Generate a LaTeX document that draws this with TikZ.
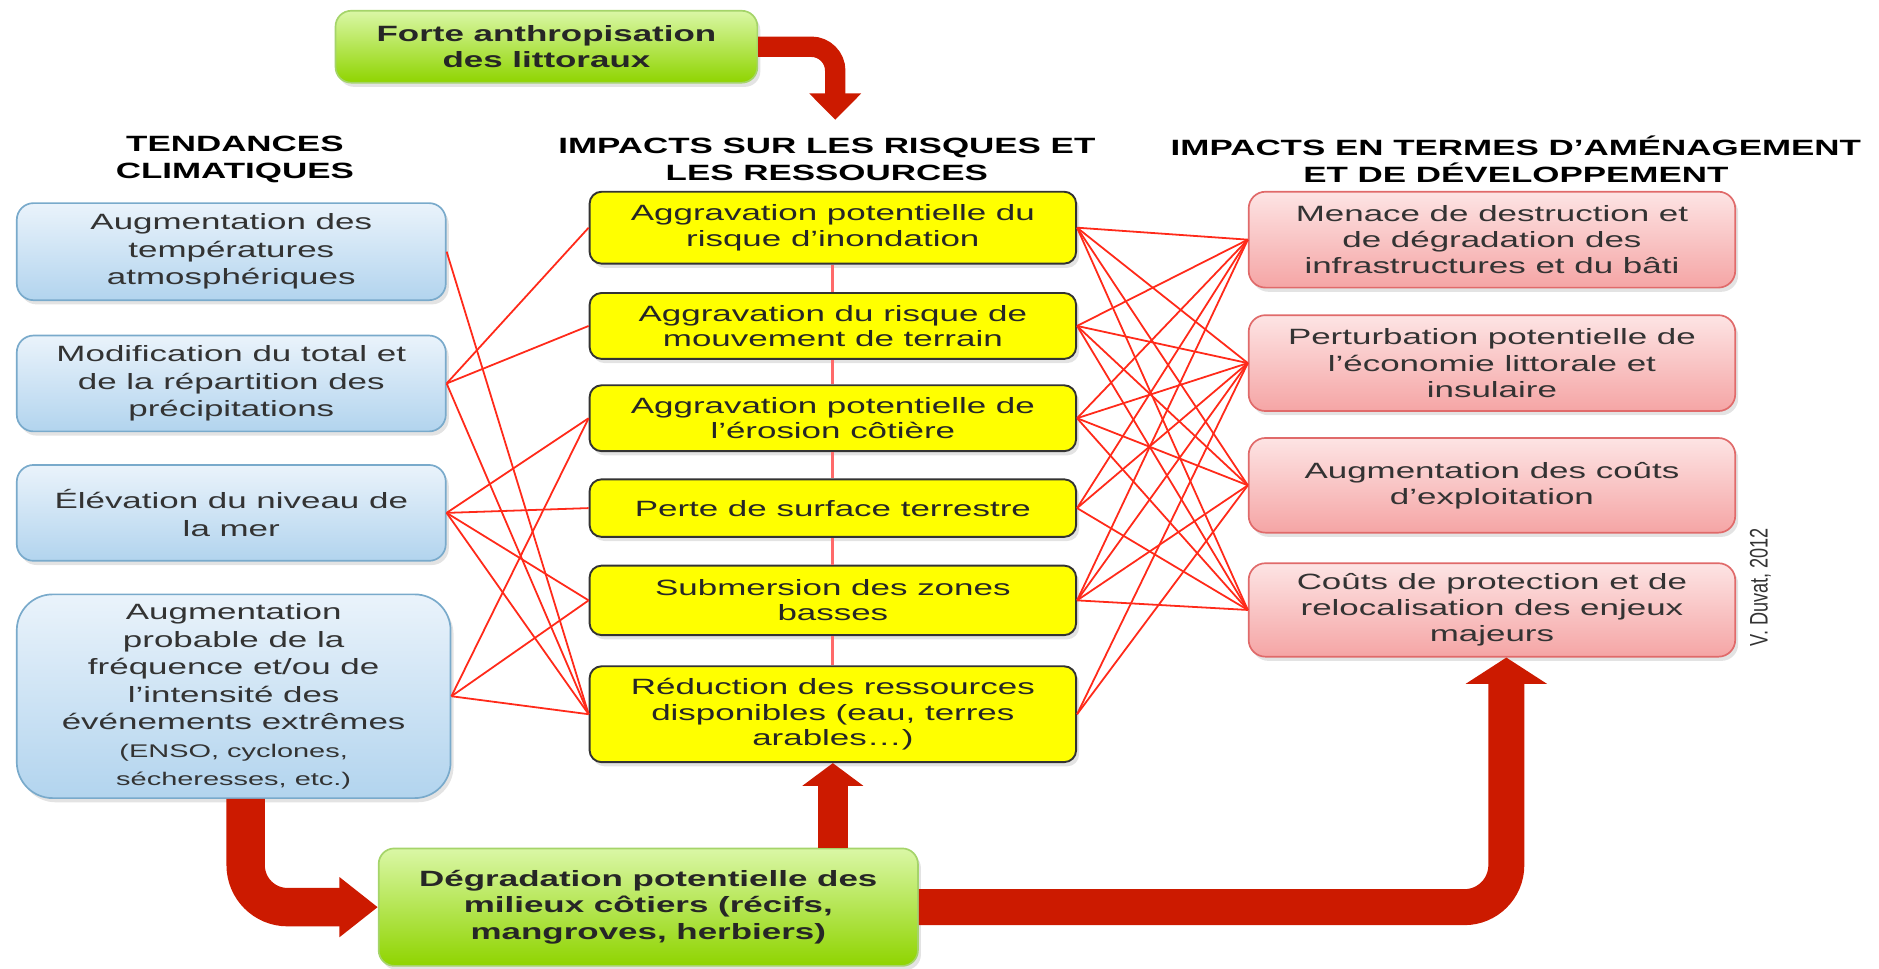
\documentclass[tikz,border=0pt]{standalone}
\usepackage{fontspec}
\setmainfont[FakeStretch=1.58]{Liberation Sans}
\newfontfamily\creditfont{Liberation Sans}
\usepackage{tikz}
\usetikzlibrary{arrows.meta,shadows}

\definecolor{bleuhaut}{HTML}{EAF3FB}
\definecolor{bleubas}{HTML}{B2D4EE}
\definecolor{bleubord}{HTML}{79AACB}
\definecolor{rosehaut}{HTML}{FDE4E4}
\definecolor{rosebas}{HTML}{F5A5A5}
\definecolor{rosebord}{HTML}{E06A6A}
\definecolor{verthaut}{HTML}{DAF7A6}
\definecolor{vertbas}{HTML}{8FD400}
\definecolor{vertbord}{HTML}{A5D46A}
\definecolor{jaune}{HTML}{FFFF00}
\definecolor{lienrouge}{HTML}{FF2A1A}
\definecolor{axerouge}{HTML}{FF6A6A}
\definecolor{flecherouge}{HTML}{CC1A00}
\definecolor{texte}{HTML}{333333}
\newcommand{\petit}{\fontsize{8.7}{11}\selectfont}

\begin{document}
\begin{tikzpicture}[x=0.2mm,y=-0.2mm,
  boite/.style={align=center,text=texte,inner sep=2pt,font=\fontsize{10.5}{12.4}\selectfont,
    drop shadow={opacity=0.22,shadow xshift=0.5mm,shadow yshift=-0.7mm}},
  climat/.style={boite,rounded corners=2.8mm,draw=bleubord,line width=0.8pt,top color=bleuhaut,bottom color=bleubas,
    minimum width=71.6mm,minimum height=16mm,font=\fontsize{10.5}{13.1}\selectfont},
  risque/.style={boite,rounded corners=2mm,draw=black!80,line width=0.9pt,fill=jaune,text=black!85,
    minimum width=81.2mm,font=\fontsize{10.5}{12}\selectfont},
  amenag/.style={boite,rounded corners=2.8mm,draw=rosebord,line width=0.8pt,top color=rosehaut,bottom color=rosebas,
    minimum width=81.2mm,minimum height=16mm},
  moteur/.style={boite,rounded corners=2.6mm,draw=vertbord,line width=0.8pt,top color=verthaut,bottom color=vertbas,
    text=black!85,font=\fontsize{10.5}{12.5}\selectfont\bfseries},
  titre/.style={align=center,font=\fontsize{10.5}{12.5}\selectfont\bfseries},
  lien/.style={lienrouge,line width=0.85pt},
  axe/.style={axerouge,line width=1.3pt},
  fleche/.style={flecherouge,line width=#1,rounded corners=7mm}]
  \useasboundingbox (0,0) rectangle (1568,808);

  % facteurs et titres
  \node[moteur,minimum width=70.4mm,minimum height=12mm] (forte) at (456,39) {Forte anthropisation\\des littoraux};
  \node[titre] (hclim) at (196,133) {TENDANCES\\CLIMATIQUES};
  \node[titre] (hrisq) at (690,133) {IMPACTS SUR LES RISQUES ET\\LES RESSOURCES};
  \node[titre] (hamen) at (1265,133) {IMPACTS EN TERMES D’AMÉNAGEMENT\\ET DE DÉVELOPPEMENT};

  \node[climat,minimum height=16.2mm] (temp) at (193,210) {Augmentation des\\températures\\atmosphériques};
  \node[climat] (prec) at (193,320) {Modification du total et\\de la répartition des\\précipitations};
  \node[climat] (mer) at (193,428) {Élévation du niveau de\\la mer};
  \node[climat,rounded corners=6mm,minimum width=72.4mm,minimum height=34mm] (extr) at (195,581)
    {Augmentation\\probable de la\\fréquence et/ou de\\l’intensité des\\événements extrêmes\\{\petit (ENSO, cyclones,}\\{\petit sécheresses, etc.)}};

  \node[risque,minimum height=12mm] (inond) at (695,190) {Aggravation potentielle du\\risque d’inondation};
  \node[risque,minimum height=11mm] (mouv) at (695,272) {Aggravation du risque de\\mouvement de terrain};
  \node[risque,minimum height=11mm] (eros) at (695,349) {Aggravation potentielle de\\l’érosion côtière};
  \node[risque,minimum height=9.6mm] (surf) at (695,424) {Perte de surface terrestre};
  \node[risque,minimum height=11.6mm] (subm) at (695,501) {Submersion des zones\\basses};
  \node[risque,minimum height=16mm] (reduc) at (695,596) {Réduction des ressources\\disponibles (eau, terres\\arables…)};

  \node[amenag] (menace) at (1245,200) {Menace de destruction et\\de dégradation des\\infrastructures et du bâti};
  \node[amenag] (econ) at (1245,303) {Perturbation potentielle de\\l’économie littorale et\\insulaire};
  \node[amenag,minimum height=15.8mm] (exploit) at (1245,405) {Augmentation des coûts\\d’exploitation};
  \node[amenag,minimum height=15.6mm] (protec) at (1245,509) {Coûts de protection et de\\relocalisation des enjeux\\majeurs};

  \node[moteur,minimum width=90mm,minimum height=19.6mm] (degr) at (541,757) {Dégradation potentielle des\\milieux côtiers (récifs,\\mangroves, herbiers)};
  \node[rotate=90,text=texte] (credit) at (1469,490) {\scalebox{1}[1.4]{\creditfont\fontsize{8.6}{10}\selectfont V. Duvat, 2012}};

  % liens
  \foreach \a/\b in {temp/reduc,prec/inond,prec/mouv,prec/reduc,mer/eros,mer/surf,mer/subm,mer/reduc,extr/eros,extr/subm,extr/reduc}
    \draw[lien] (\a.east) -- (\b.west);
  \foreach \a/\b in {inond/menace,inond/econ,inond/exploit,inond/protec,mouv/menace,mouv/econ,mouv/exploit,mouv/protec,
    eros/menace,eros/econ,eros/exploit,eros/protec,surf/menace,surf/econ,surf/protec,
    subm/menace,subm/econ,subm/exploit,subm/protec,reduc/econ,reduc/exploit}
    \draw[lien] (\a.east) -- (\b.west);
  \foreach \a/\b in {inond/mouv,mouv/eros,eros/surf,surf/subm,subm/reduc}
    \draw[axe] (\a.south) -- (\b.north);

  % grosses fleches
  \coordinate (pointe) at (697,100);
  \draw[fleche=3.4mm,rounded corners=4mm,-{Triangle[width=8.4mm,length=4.4mm]}] (forte.east) -| (pointe);
  \draw[fleche=6.4mm,-{Triangle[width=9.6mm,length=6.4mm]}] ([xshift=2mm]extr.south) |- (degr.west);
  \draw[fleche=5mm,-{Triangle[width=10mm,length=3.8mm]}] (degr.north -| reduc.south) -- (reduc.south);
  \draw[fleche=6mm,-{Triangle[width=13.4mm,length=4.4mm]}] (degr.east) -| ([xshift=2.4mm]protec.south);
\end{tikzpicture}
\end{document}
